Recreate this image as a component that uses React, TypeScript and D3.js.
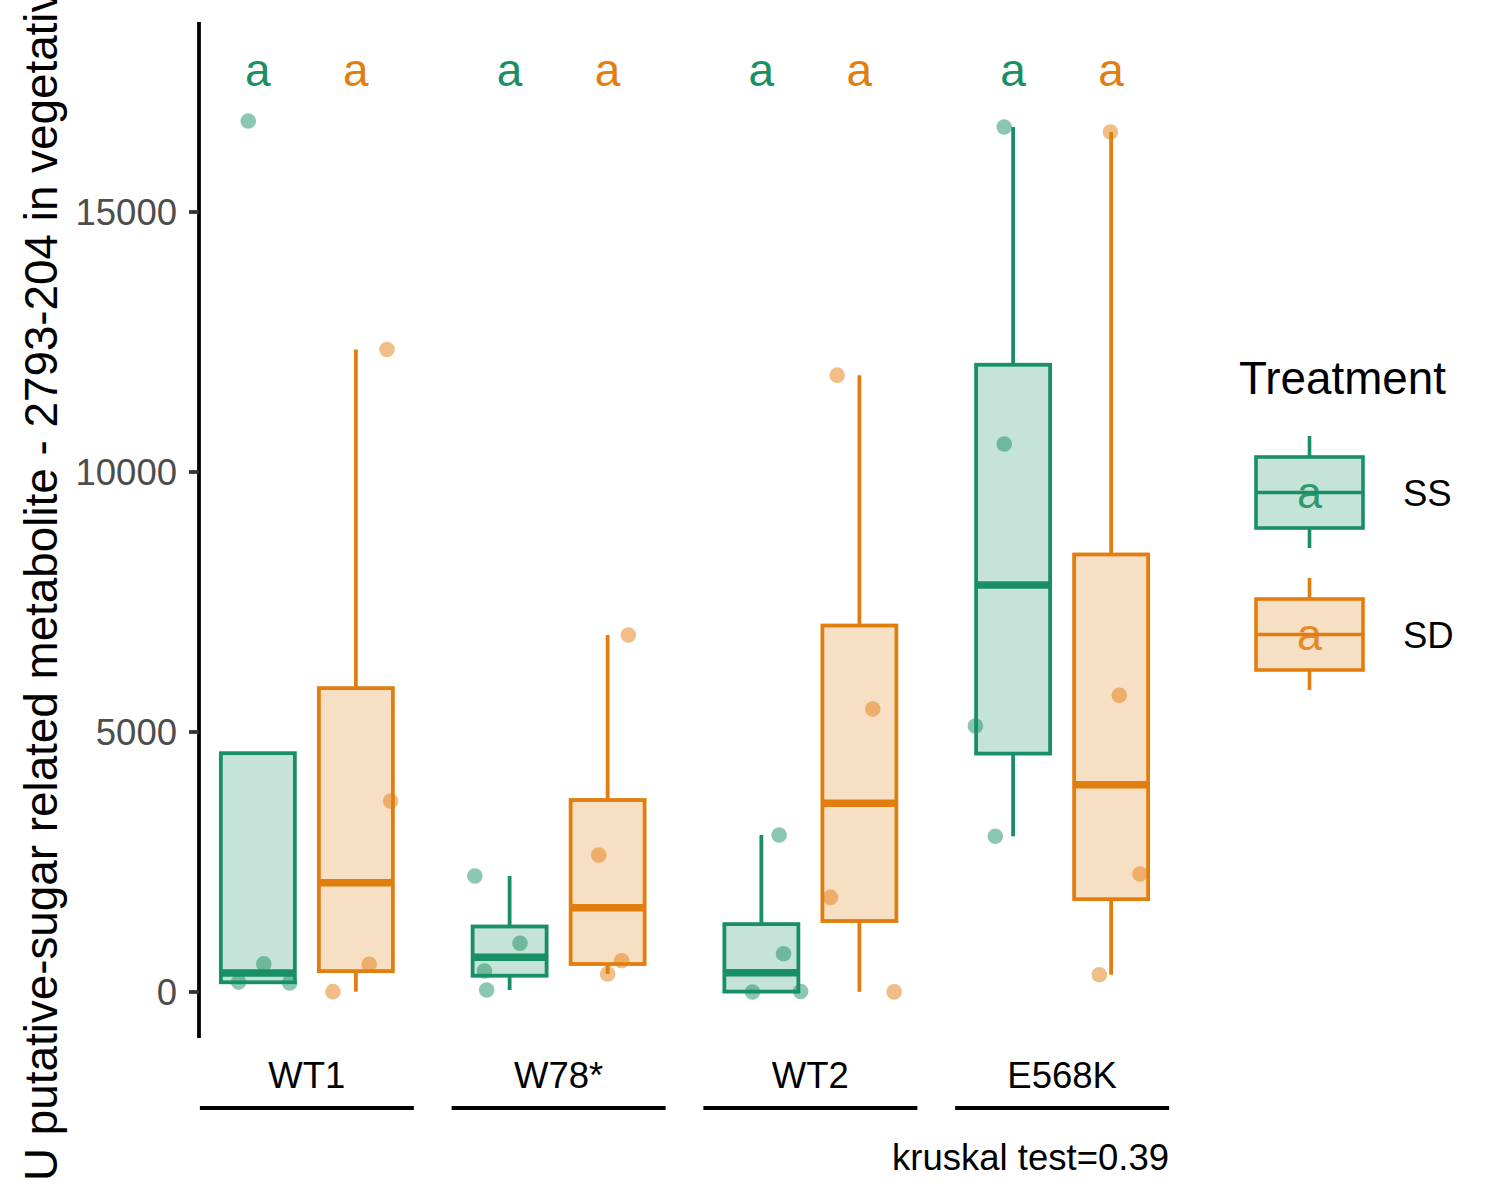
import React from "react";
import * as d3 from "d3";

const genotypes = ["WT1", "W78*", "WT2", "E568K"];
const treatments = ["SS", "SD"];
const colors = ["#188F64", "#E17E0E"];

// values per genotype x treatment (4 replicates each)
const wt1SS = [16750, 540, 190, 175];
const wt1SD = [6, 533, 3673, 12356];
const w78SS = [2230, 936, 404, 38];
const w78SD = [6865, 2635, 602, 346];
const wt2SS = [3019, 734, 0, 10];
const wt2SD = [11862, 5442, 1819, 2];
const e568SS = [16635, 10538, 5115, 2994];
const e568SD = [16538, 5706, 2269, 331];

// horizontal jitter of each replicate, as fraction of the box width
const wt1SSJit = [-0.13, 0.08, -0.26, 0.43];
const wt1SDJit = [-0.31, 0.18, 0.47, 0.42];
const w78SSJit = [-0.47, 0.14, -0.34, -0.31];
const w78SDJit = [0.28, -0.12, 0.19, 0.0];
const wt2SSJit = [0.24, 0.3, -0.12, 0.53];
const wt2SDJit = [-0.3, 0.18, -0.39, 0.47];
const e568SSJit = [-0.12, -0.12, -0.51, -0.24];
const e568SDJit = [-0.01, 0.11, 0.39, -0.16];

const groupValues = [
  [wt1SS, wt1SD],
  [w78SS, w78SD],
  [wt2SS, wt2SD],
  [e568SS, e568SD],
];
const groupJitter = [
  [wt1SSJit, wt1SDJit],
  [w78SSJit, w78SDJit],
  [wt2SSJit, wt2SDJit],
  [e568SSJit, e568SDJit],
];
const letters = [
  ["a", "a"],
  ["a", "a"],
  ["a", "a"],
  ["a", "a"],
];
const yTicks = [0, 5000, 10000, 15000];
const yTitle =
  "U putative-sugar related metabolite - 2793-204 in vegetative tissue";
const testLabel = "kruskal test=0.39";
const legendTitle = "Treatment";

const FONT = "Arial, 'Liberation Sans', Helvetica, sans-serif";

function boxStats(vals: number[]) {
  const s = [...vals].sort((a, b) => a - b);
  const q1 = d3.quantile(s, 0.25)!;
  const med = d3.quantile(s, 0.5)!;
  const q3 = d3.quantile(s, 0.75)!;
  const iqr = q3 - q1;
  const inside = s.filter((v) => v >= q1 - 1.5 * iqr && v <= q3 + 1.5 * iqr);
  const lo = Math.min(q1, d3.min(inside)!);
  const hi = Math.max(q3, d3.max(inside)!);
  return { q1, med, q3, lo, hi };
}

export default function App() {
  const W = 1500;
  const H = 1200;
  const y = d3.scaleLinear().domain([-885, 18654]).range([1038, 22]);
  const x = d3
    .scaleBand<string>()
    .domain(genotypes)
    .range([181, 1188])
    .paddingInner(0.15)
    .paddingOuter(0.075);
  const xi = d3
    .scaleBand<string>()
    .domain(treatments)
    .range([0, x.bandwidth()])
    .paddingInner(0.245)
    .paddingOuter(0.214);
  const bw = xi.bandwidth();

  return (
    <svg
      width={W}
      height={H}
      style={{ position: "absolute", left: 0, top: 0, background: "#fff" }}
      fontFamily={FONT}
    >
      {/* y axis */}
      <line x1={199} x2={199} y1={y.range()[1]} y2={y.range()[0]} stroke="#000" strokeWidth={3.8} />
      {yTicks.map((t) => (
        <g key={t}>
          <line x1={189} x2={199} y1={y(t)} y2={y(t)} stroke="#333" strokeWidth={3.8} />
          <text x={177} y={y(t) + 13} textAnchor="end" fontSize={36.5} fill="#4D4D4D">
            {t}
          </text>
        </g>
      ))}
      <text
        transform={`translate(57,1181) rotate(-90)`}
        textAnchor="start"
        fontSize={45.8}
        fill="#000"
      >
        {yTitle}
      </text>

      {/* boxes */}
      {genotypes.map((g, gi) =>
        treatments.map((t, ti) => {
          const vals = groupValues[gi][ti];
          const st = boxStats(vals);
          const x0 = x(g)! + xi(t)!;
          const cx = x0 + bw / 2;
          const c = colors[ti];
          return (
            <g key={g + t}>
              <line x1={cx} x2={cx} y1={y(st.hi)} y2={y(st.q3)} stroke={c} strokeWidth={3.8} />
              <line x1={cx} x2={cx} y1={y(st.q1)} y2={y(st.lo)} stroke={c} strokeWidth={3.8} />
              <rect
                x={x0}
                y={y(st.q3)}
                width={bw}
                height={y(st.q1) - y(st.q3)}
                fill={c}
                fillOpacity={0.25}
                stroke={c}
                strokeWidth={3.8}
              />
              <line x1={x0} x2={x0 + bw} y1={y(st.med)} y2={y(st.med)} stroke={c} strokeWidth={7.5} />
              {vals.map((v, k) => (
                <circle
                  key={k}
                  cx={cx + groupJitter[gi][ti][k] * bw}
                  cy={y(v)}
                  r={7.8}
                  fill={c}
                  fillOpacity={0.5}
                />
              ))}
              <text x={cx} y={y(17423)} textAnchor="middle" fontSize={46} fill={c}>
                {letters[gi][ti]}
              </text>
            </g>
          );
        })
      )}

      {/* x labels + underlines */}
      {genotypes.map((g) => (
        <g key={g}>
          <text x={x(g)! + x.bandwidth() / 2} y={1088} textAnchor="middle" fontSize={36.5} fill="#000">
            {g}
          </text>
          <line x1={x(g)!} x2={x(g)! + x.bandwidth()} y1={1108} y2={1108} stroke="#000" strokeWidth={3.8} />
        </g>
      ))}
      <text x={1169} y={1170} textAnchor="end" fontSize={36.5} fill="#000">
        {testLabel}
      </text>

      {/* legend */}
      <text x={1239} y={394} fontSize={45.8} fill="#000">
        {legendTitle}
      </text>
      {treatments.map((t, ti) => {
        const top = 436 + ti * 142;
        const c = colors[ti];
        const kx = 1256;
        const kw = 107;
        const kcx = kx + kw / 2;
        return (
          <g key={t}>
            <line x1={kcx} x2={kcx} y1={top} y2={top + 21} stroke={c} strokeWidth={3.6} />
            <line x1={kcx} x2={kcx} y1={top + 92} y2={top + 112} stroke={c} strokeWidth={3.6} />
            <rect
              x={kx}
              y={top + 21}
              width={kw}
              height={71}
              fill={c}
              fillOpacity={0.25}
              stroke={c}
              strokeWidth={3.6}
            />
            <line x1={kx} x2={kx + kw} y1={top + 56.5} y2={top + 56.5} stroke={c} strokeWidth={3.6} />
            <text x={kcx} y={top + 72} textAnchor="middle" fontSize={45} fill={c} fillOpacity={0.9}>
              a
            </text>
            <text x={1403} y={top + 70} fontSize={36.5} fill="#000">
              {t}
            </text>
          </g>
        );
      })}
    </svg>
  );
}
